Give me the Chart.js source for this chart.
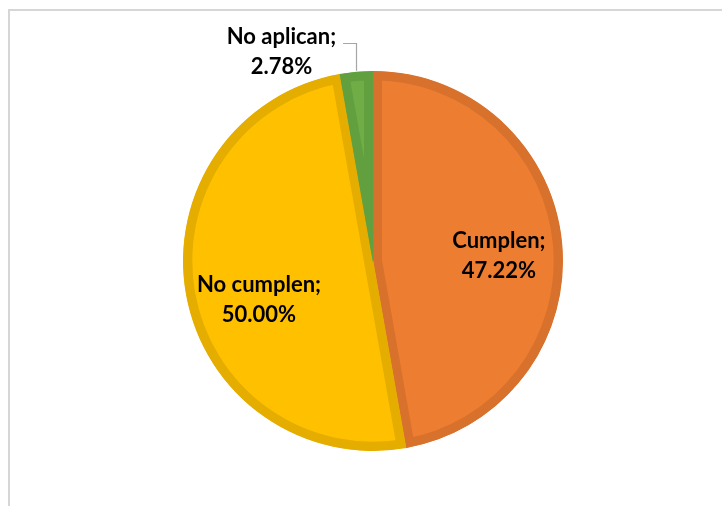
<!DOCTYPE html>
<html>
<head>
<meta charset="utf-8">
<script src="https://cdn.jsdelivr.net/npm/chart.js@4"></script>
<style>
  html, body { margin: 0; padding: 0; background: #fff; overflow: hidden; }
  #frame {
    position: absolute; left: 8px; top: 9px; width: 800px; height: 600px;
    border: 2px solid #d6d6d6; box-sizing: border-box;
  }
  #wrap { position: absolute; left: 0; top: 0; width: 722px; height: 506px; }
</style>
</head>
<body>
<div id="frame"></div>
<div id="wrap"><canvas id="myPieChart" width="722" height="506"></canvas></div>
<script>
const categories = ['Cumplen', 'No cumplen', 'No aplican'];
const percents = [47.22, 50.00, 2.78];
const fillColors = ['#ED7D31', '#FFC000', '#70AD47'];
const edgeColors = ['#D7712C', '#E5AD00', '#62A03F'];

// where each label sits: fraction of radius along the slice middle, plus a nudge in px
const labelSpots = [
  { r: 0.66, dx: 1, dy: 6 },
  { r: 0.62, dx: 2, dy: 18 },
  { r: 1.0, dx: -75, dy: -20, outside: true }
];

const pieLabels = {
  id: 'pieLabels',
  afterDatasetsDraw(chart) {
    const ctx = chart.ctx;
    const arcs = chart.getDatasetMeta(0).data;
    ctx.save();
    ctx.font = 'bold 22px Lato, "Open Sans", sans-serif';
    ctx.fillStyle = '#000';
    ctx.textAlign = 'center';
    ctx.textBaseline = 'middle';
    arcs.forEach((arc, i) => {
      const p = arc.getProps(['x', 'y', 'startAngle', 'endAngle', 'outerRadius']);
      const mid = (p.startAngle + p.endAngle) / 2;
      const spot = labelSpots[i];
      const ex = p.x + Math.cos(mid) * p.outerRadius * spot.r;
      const ey = p.y + Math.sin(mid) * p.outerRadius * spot.r;
      const lx = ex + spot.dx;
      const ly = ey + spot.dy;
      if (spot.outside) {
        // leader line from the slice edge up and over to the text
        ctx.strokeStyle = '#a6a6a6';
        ctx.lineWidth = 1.2;
        ctx.beginPath();
        ctx.moveTo(Math.round(ex) + 0.5, ey - 1);
        ctx.lineTo(Math.round(ex) + 0.5, Math.round(ly - 9) + 0.5);
        ctx.lineTo(Math.round(ex) - 13, Math.round(ly - 9) + 0.5);
        ctx.stroke();
      }
      ctx.fillText(categories[i] + ';', lx, ly - 15);
      ctx.fillText(percents[i].toFixed(2) + '%', lx, ly + 15);
    });
    ctx.restore();
  }
};

var ctx = document.getElementById('myPieChart').getContext('2d');
var myPieChart = new Chart(ctx, {
  type: 'pie',
  data: {
    labels: categories,
    datasets: [{
      data: percents,
      backgroundColor: fillColors,
      borderColor: edgeColors,
      borderWidth: 9,
      borderAlign: 'inner'
    }]
  },
  options: {
    responsive: false,
    animation: false,
    layout: { padding: { top: 71, bottom: 55, left: 183, right: 159 } },
    plugins: {
      legend: { display: false },
      tooltip: { enabled: false }
    }
  },
  plugins: [pieLabels]
});
</script>
</body>
</html>
